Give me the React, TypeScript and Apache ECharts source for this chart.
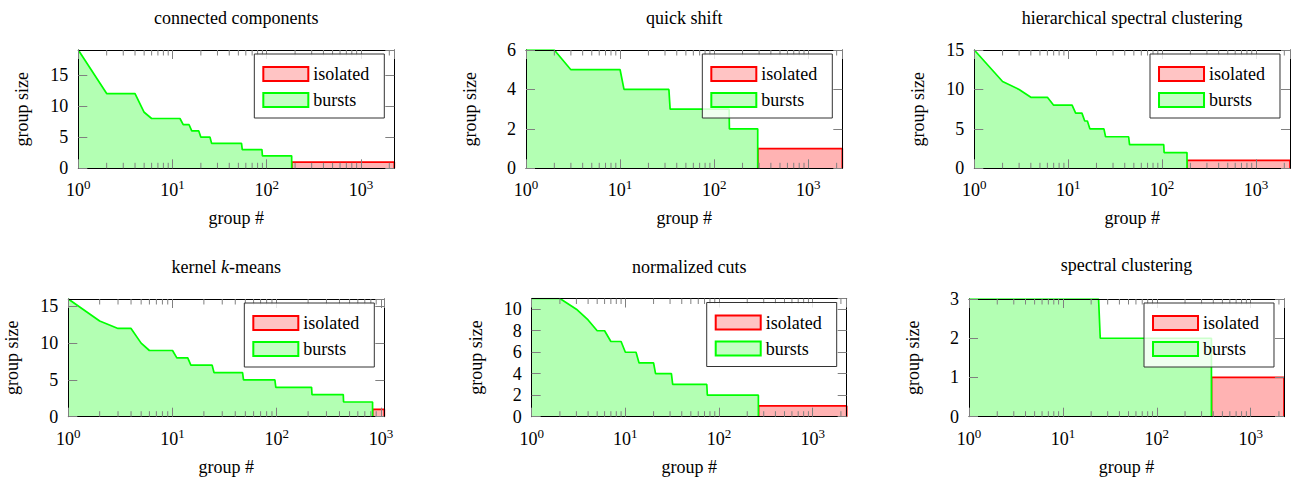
import React, { useEffect, useRef } from "react";
import * as echarts from "echarts";

const FONT = "Liberation Serif";

// panel titles
const titles = [
  "connected components",
  "quick shift",
  "hierarchical spectral clustering",
  "kernel k-means",
  "normalized cuts",
  "spectral clustering",
];

// [group #, group size] breakpoints of the "bursts" curves
const ccBursts = [[1, 19], [2, 12], [4, 12], [5, 9], [6, 8], [12, 8], [13, 7], [15, 7], [16, 6], [19, 6], [20, 5], [25, 5], [26, 4], [54, 4], [55, 3], [89, 3], [90, 2], [184, 2]];
const qsBursts = [[1, 6], [2, 6], [3, 5], [10, 5], [11, 4], [33, 4], [34, 3], [144, 3], [145, 2], [290, 2]];
const hscBursts = [[1, 15], [2, 11], [3, 10], [4, 9], [6, 9], [7, 8], [11, 8], [12, 7], [14, 7], [15, 6], [16, 6], [17, 5], [24, 5], [25, 4], [44, 4], [45, 3], [104, 3], [105, 2], [184, 2]];
const kkBursts = [[1, 16], [2, 13], [3, 12], [4, 12], [5, 10], [6, 9], [10, 9], [11, 8], [14, 8], [15, 7], [24, 7], [25, 6], [47, 6], [48, 5], [96, 5], [98, 4], [216, 4], [218, 3], [435, 3], [438, 2], [831, 2]];
const ncBursts = [[1, 11], [2, 11], [3, 10], [4, 9], [5, 8], [6, 8], [7, 7], [9, 7], [10, 6], [13, 6], [14, 5], [20, 5], [21, 4], [31, 4], [32, 3], [74, 3], [75, 2], [263, 2]];
const scBursts = [[1, 3], [24, 3], [25, 2], [382, 2]];

// "isolated" groups: first group, last group (size 1)
const ccIsolated = [[185, 1], [2260, 1]];
const qsIsolated = [[291, 1], [2297, 1]];
const hscIsolated = [[185, 1], [2300, 1]];
const kkIsolated = [[832, 1], [1077, 1]];
const ncIsolated = [[264, 1], [2306, 1]];
const scIsolated = [[383, 1], [2265, 1]];

// y axis ranges
const yMax = [19, 6, 15, 16, 11, 3];
const yInterval = [5, 2, 5, 5, 2, 1];

const burstsAll = [ccBursts, qsBursts, hscBursts, kkBursts, ncBursts, scBursts];
const isolatedAll = [ccIsolated, qsIsolated, hscIsolated, kkIsolated, ncIsolated, scIsolated];

const minorMultipliers = [2, 3, 4, 5, 6, 7, 8, 9];
const decades = [1, 10, 100, 1000];

// layout (pixels)
const layout = [
  { left: 78.3, top: 50, width: 316, height: 118.3, titleY: 18 },
  { left: 526, top: 50, width: 316.3, height: 118.3, titleY: 18 },
  { left: 974.3, top: 50, width: 315.7, height: 118.3, titleY: 18 },
  { left: 68.3, top: 299, width: 316, height: 117.7, titleY: 267 },
  { left: 531.7, top: 298.5, width: 315, height: 118.2, titleY: 267 },
  { left: 969, top: 299, width: 315, height: 117.7, titleY: 265 },
];

const TICK = "#808080";

function buildOption() {
  const grid: any[] = [];
  const xAxis: any[] = [];
  const yAxis: any[] = [];
  const series: any[] = [];
  const legend: any[] = [];
  const graphic: any[] = [];

  layout.forEach((l, i) => {
    const iso = isolatedAll[i];
    const bursts = burstsAll[i];
    const xmax = iso[iso.length - 1][0];
    const ymax = yMax[i];
    grid.push({ left: l.left, top: l.top, width: l.width, height: l.height });

    const axisCommon = {
      gridIndex: i,
      z: 5,
      splitLine: { show: false },
      axisLine: { show: true, onZero: false, lineStyle: { color: "#000", width: 1 } },
      axisTick: { show: true, inside: true, length: 9, lineStyle: { color: TICK, width: 1 } },
    };

    xAxis.push({
      ...axisCommon,
      type: "log",
      logBase: 10,
      min: 1,
      max: xmax,
      position: "bottom",
      name: "group #",
      nameLocation: "middle",
      nameGap: 41,
      nameTextStyle: { fontFamily: FONT, fontSize: 18, color: "#000" },
      axisLabel: {
        margin: 10,
        showMaxLabel: false,
        formatter: (v: number) => `{b|10}{s|${Math.round(Math.log10(v))}}`,
        rich: {
          b: { fontFamily: FONT, fontSize: 18, lineHeight: 24, color: "#000" },
          s: { fontFamily: FONT, fontSize: 13, lineHeight: 12, verticalAlign: "top", color: "#000" },
        },
      },
    });
    xAxis.push({
      ...axisCommon,
      type: "log",
      logBase: 10,
      min: 1,
      max: xmax,
      position: "top",
      axisLabel: { show: false },
    });

    yAxis.push({
      ...axisCommon,
      type: "value",
      min: 0,
      max: ymax,
      interval: yInterval[i],
      position: "left",
      name: "group size",
      nameLocation: "middle",
      nameRotate: 90,
      nameGap: 47,
      nameTextStyle: { fontFamily: FONT, fontSize: 18, color: "#000" },
      axisLabel: {
        margin: 10,
        fontFamily: FONT,
        fontSize: 18,
        color: "#000",
        showMaxLabel: ymax % yInterval[i] === 0,
      },
    });
    yAxis.push({
      ...axisCommon,
      type: "value",
      min: 0,
      max: ymax,
      interval: yInterval[i],
      position: "right",
      axisLabel: { show: false },
    });

    const isoData = [[iso[0][0], 0], ...iso, [xmax, 0]];
    const burstData = [...bursts, [bursts[bursts.length - 1][0], 0]];

    series.push({
      type: "line",
      name: "isolated",
      xAxisIndex: 2 * i,
      yAxisIndex: 2 * i,
      data: isoData,
      symbol: "none",
      z: 2,
      lineStyle: { color: "#ff0000", width: 1.7 },
      itemStyle: { color: "#ff0000" },
      areaStyle: { color: "#ffb3b3", opacity: 1 },
      silent: true,
    });
    series.push({
      type: "line",
      name: "bursts",
      xAxisIndex: 2 * i,
      yAxisIndex: 2 * i,
      data: burstData,
      symbol: "none",
      z: 3,
      lineStyle: { color: "#00ff00", width: 1.7 },
      itemStyle: { color: "#00ff00" },
      areaStyle: { color: "#b3ffb3", opacity: 1 },
      silent: true,
    });

    const minors: number[][] = [];
    decades.forEach((d) => minorMultipliers.forEach((m) => { if (d * m < xmax) minors.push([d * m, 0]); }));
    series.push({
      type: "custom",
      xAxisIndex: 2 * i,
      yAxisIndex: 2 * i,
      z: 6,
      silent: true,
      clip: false,
      data: minors,
      renderItem: (params: any, api: any) => {
        const v = api.value(0);
        const b = api.coord([v, 0]);
        const t = api.coord([v, ymax]);
        return {
          type: "group",
          children: [
            { type: "line", shape: { x1: b[0], y1: b[1], x2: b[0], y2: b[1] - 5.5 }, style: { stroke: TICK, lineWidth: 1 } },
            { type: "line", shape: { x1: t[0], y1: t[1], x2: t[0], y2: t[1] + 5.5 }, style: { stroke: TICK, lineWidth: 1 } },
          ],
        };
      },
    });

    legend.push({
      orient: "vertical",
      right: 1294 - (l.left + l.width - 10),
      top: l.top + 4,
      selectedMode: false,
      z: 8,
      itemWidth: 45,
      itemHeight: 14,
      itemGap: 8,
      padding: [11, 15, 9, 8],
      borderColor: "#333",
      borderWidth: 1,
      borderRadius: 0,
      backgroundColor: "rgba(255,255,255,0.8)",
      textStyle: { fontFamily: FONT, fontSize: 18, lineHeight: 16, color: "#000" },
      data: [
        { name: "isolated", icon: "rect", itemStyle: { color: "#ffc4c4", borderColor: "#ff0000", borderWidth: 2 } },
        { name: "bursts", icon: "rect", itemStyle: { color: "#c4ffc4", borderColor: "#00ff00", borderWidth: 2 } },
      ],
    });

    const t = titles[i];
    const isKernel = t.indexOf("k-means") >= 0;
    graphic.push({
      type: "text",
      x: l.left + l.width / 2,
      y: l.titleY,
      z: 10,
      style: {
        text: isKernel ? "{a|kernel }{i|k}{a|-means}" : t,
        rich: isKernel
          ? {
              a: { fontFamily: FONT, fontSize: 18, fill: "#000" },
              i: { fontFamily: FONT, fontSize: 18, fontStyle: "italic", fill: "#000" },
            }
          : undefined,
        fontFamily: FONT,
        fontSize: 18,
        fill: "#000",
        textAlign: "center",
        textVerticalAlign: "middle",
      },
    });
  });

  return {
    animation: false,
    backgroundColor: "#fff",
    textStyle: { fontFamily: FONT },
    grid,
    xAxis,
    yAxis,
    series,
    legend,
    graphic,
  };
}

export default function App() {
  const ref = useRef<HTMLDivElement>(null);
  useEffect(() => {
    if (!ref.current) return;
    const chart = echarts.init(ref.current, undefined, { renderer: "svg" });
    chart.setOption(buildOption());
    return () => chart.dispose();
  }, []);
  return (
    <div
      ref={ref}
      style={{ position: "absolute", left: 0, top: 0, width: 1294, height: 480 }}
    />
  );
}
